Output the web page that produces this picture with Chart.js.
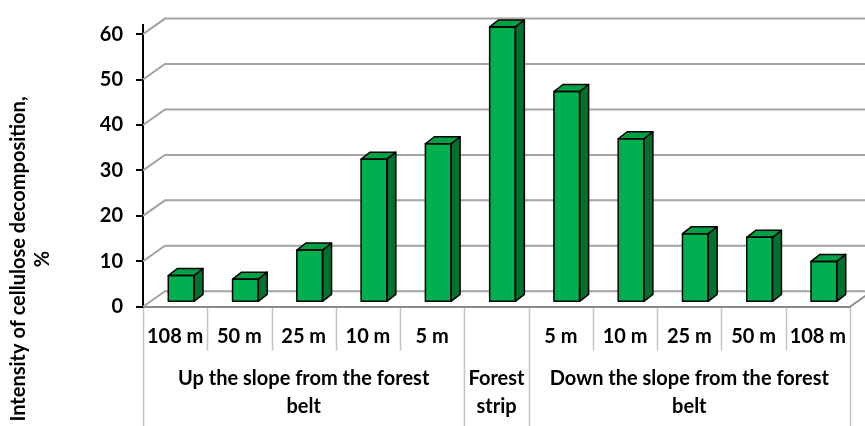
<!DOCTYPE html>
<html>
<head>
<meta charset="utf-8">
<script src="https://cdn.jsdelivr.net/npm/chart.js@4.4.1/dist/chart.umd.min.js"></script>
<style>
html,body{margin:0;padding:0;background:#fff;}
#wrap{width:865px;height:426px;position:relative;}
</style>
</head>
<body>
<div id="wrap"><canvas id="c" width="865" height="426"></canvas></div>
<script>
// ---- data ----
const distances = ['108 m', '50 m', '25 m', '10 m', '5 m', '', '5 m', '10 m', '25 m', '50 m', '108 m'];
const groupOf = [0, 0, 0, 0, 0, 1, 2, 2, 2, 2, 2];
const groupLabels = [
  ['Up the slope from the forest', 'belt'],
  ['Forest', 'strip'],
  ['Down the slope from the forest', 'belt']
];
const values = [5.9, 5.1, 11.5, 31.5, 34.9, 60.6, 46.4, 36.0, 15.1, 14.3, 9.0];
const yTitle = ['Intensity of cellulose decomposition,', '%'];
const yTicks = [0, 10, 20, 30, 40, 50, 60];

const FONT = 'Lato';
const FSIZE = 20;
const DEPTH_X = 22, DEPTH_Y = -15.5;      // back wall offset
const BAR_SHIFT_X = 6, BAR_SHIFT_Y = -4.4; // bar front face depth
const BAR_DX = 9, BAR_DY = -7;            // bar thickness
const GRID = '#a3a3a3';

const wallPlugin = {
  id: 'wall3d',
  beforeDatasetsDraw(chart) {
    const ctx = chart.ctx, y = chart.scales.y;
    const L = chart.chartArea.left, R = chart.chartArea.right;
    ctx.save();
    ctx.strokeStyle = GRID;
    ctx.lineWidth = 2;
    yTicks.forEach(v => {
      const py = y.getPixelForValue(v);
      ctx.beginPath();
      ctx.moveTo(L, py);
      ctx.lineTo(L + DEPTH_X, py + DEPTH_Y);
      ctx.lineTo(chart.width + 5, py + DEPTH_Y);
      ctx.stroke();
    });
    // floor right edge
    const p0 = y.getPixelForValue(0);
    ctx.strokeStyle = '#8a8a8a';
    ctx.beginPath();
    ctx.moveTo(R, p0);
    ctx.lineTo(R + DEPTH_X, p0 + DEPTH_Y);
    ctx.stroke();
    ctx.restore();
    // shift bar front faces into depth
    ctx.save();
    ctx.translate(BAR_SHIFT_X, BAR_SHIFT_Y);
  },
  afterDatasetsDraw(chart) {
    const ctx = chart.ctx;
    const meta = chart.getDatasetMeta(0);
    ctx.lineWidth = 1.5;
    ctx.strokeStyle = '#000';
    ctx.lineJoin = 'round';
    meta.data.forEach(bar => {
      const p = bar.getProps(['x', 'y', 'base', 'width'], true);
      const l = p.x - p.width / 2, r = p.x + p.width / 2, t = p.y, b = p.base;
      // side face
      ctx.beginPath();
      ctx.moveTo(r, t); ctx.lineTo(r + BAR_DX, t + BAR_DY);
      ctx.lineTo(r + BAR_DX, b + BAR_DY); ctx.lineTo(r, b); ctx.closePath();
      ctx.fillStyle = '#00712f'; ctx.fill(); ctx.stroke();
      // top face
      ctx.beginPath();
      ctx.moveTo(l, t); ctx.lineTo(l + BAR_DX, t + BAR_DY);
      ctx.lineTo(r + BAR_DX, t + BAR_DY); ctx.lineTo(r, t); ctx.closePath();
      ctx.fillStyle = '#00a046'; ctx.fill(); ctx.stroke();
      // front outline
      ctx.strokeRect(l, t, r - l, b - t);
    });
    ctx.restore();
  },
  afterDraw(chart) {
    const ctx = chart.ctx, x = chart.scales.x, y = chart.scales.y;
    const p0 = y.getPixelForValue(0);
    const half = (x.getPixelForValue(1) - x.getPixelForValue(0)) / 2;
    ctx.save();
    // category dividers
    ctx.strokeStyle = '#c4c4c4';
    ctx.lineWidth = 1.5;
    for (let i = 0; i <= distances.length; i++) {
      const px = Math.round(x.getPixelForValue(i) - half) + 0.5;
      const isGroupEdge = i === 0 || i === distances.length || groupOf[i] !== groupOf[i - 1];
      ctx.beginPath();
      ctx.moveTo(px, p0 + 1);
      ctx.lineTo(px, isGroupEdge ? chart.height : p0 + 44);
      ctx.stroke();
    }
    // group labels
    ctx.fillStyle = '#000';
    ctx.font = 'bold ' + FSIZE + 'px ' + FONT;
    ctx.textAlign = 'center';
    ctx.textBaseline = 'middle';
    groupLabels.forEach((lines, g) => {
      const idx = groupOf.map((v, i) => v === g ? i : -1).filter(i => i >= 0);
      const cx = (x.getPixelForValue(idx[0]) + x.getPixelForValue(idx[idx.length - 1])) / 2;
      lines.forEach((t, k) => ctx.fillText(t, cx, 379 + k * 27.5));
    });
    // y axis title
    ctx.translate(19, 259);
    ctx.rotate(-Math.PI / 2);
    yTitle.forEach((t, k) => ctx.fillText(t, 0, k * 24));
    ctx.restore();
  }
};

new Chart(document.getElementById('c'), {
  type: 'bar',
  data: {
    labels: distances,
    datasets: [{
      data: values,
      backgroundColor: '#00b050',
      borderWidth: 0,
      barPercentage: 0.4,
      categoryPercentage: 1,
      clip: false
    }]
  },
  options: {
    responsive: false,
    animation: false,
    devicePixelRatio: 1,
    layout: { padding: { left: 0, top: 0, right: 15, bottom: 0 } },
    plugins: { legend: { display: false }, tooltip: { enabled: false }, title: { display: false } },
    scales: {
      x: {
        offset: true,
        grid: { display: false, drawTicks: false },
        border: { display: true, color: '#8a8a8a', width: 2 },
        ticks: { font: { family: FONT, size: FSIZE, weight: 'bold' }, color: '#000', padding: 18, maxRotation: 0, autoSkip: false },
        afterFit(s) { s.height = 426 - 306.7; }
      },
      y: {
        min: 0, max: 62,
        grid: { drawOnChartArea: false, drawTicks: true, tickLength: 7, color: '#000', lineWidth: 2 },
        border: { display: true, color: '#000', width: 2 },
        ticks: { stepSize: 10, includeBounds: false, font: { family: FONT, size: FSIZE, weight: 'bold' }, color: '#000', padding: 13 },
        afterFit(s) { s.width = 143; }
      }
    }
  },
  plugins: [wallPlugin]
});
</script>
</body>
</html>
